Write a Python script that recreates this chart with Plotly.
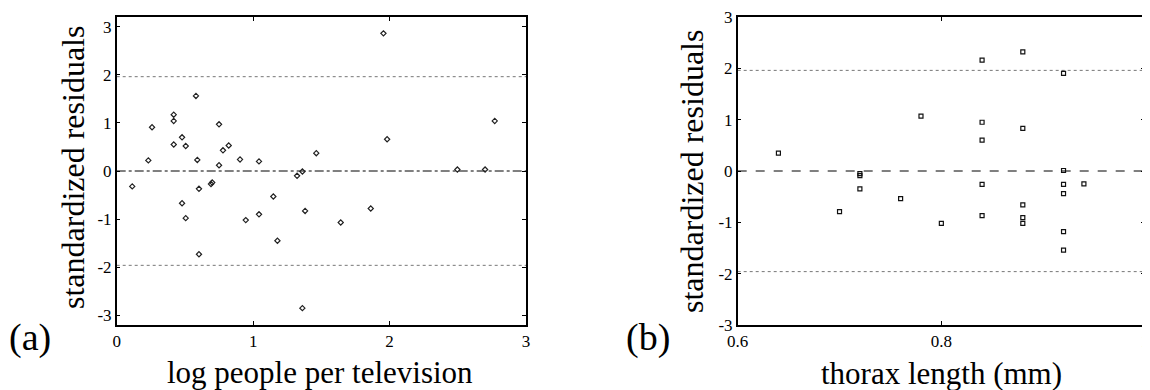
import plotly.graph_objects as go

# ---- data: panel (a) ----
tv_x = [0.114, 0.232, 0.259, 0.418, 0.418, 0.418, 0.479, 0.506, 0.581, 0.591,
        0.603, 0.691, 0.700, 0.750, 0.750, 0.779, 0.821, 0.904, 1.043, 1.148,
        1.322, 1.361, 1.463, 0.479, 0.506, 0.603, 0.946, 1.043, 1.178, 1.381,
        1.361, 1.955, 1.982, 2.771, 2.497, 2.700, 1.642, 1.862]
tv_res = [-0.32, 0.22, 0.91, 1.17, 1.04, 0.55, 0.70, 0.52, 1.56, 0.23,
          -0.37, -0.27, -0.24, 0.97, 0.12, 0.43, 0.53, 0.24, 0.20, -0.53,
          -0.10, -0.01, 0.37, -0.67, -0.98, -1.73, -1.02, -0.90, -1.45, -0.83,
          -2.85, 2.86, 0.66, 1.04, 0.03, 0.03, -1.07, -0.78]

# ---- data: panel (b) ----
thorax_x = [0.64, 0.70, 0.72, 0.72, 0.72, 0.76, 0.78, 0.80, 0.84, 0.84,
            0.84, 0.84, 0.84, 0.88, 0.88, 0.88, 0.88, 0.88, 0.92, 0.92,
            0.92, 0.92, 0.92, 0.92, 0.94]
thorax_res = [0.35, -0.79, -0.05, -0.09, -0.35, -0.54, 1.07, -1.02, 2.16, 0.95,
              0.60, -0.26, -0.87, 2.32, 0.83, -0.66, -0.91, -1.02, 1.90, 0.01,
              -0.26, -0.44, -1.18, -1.54, -0.25]

ref_levels = [-1.96, 0.0, 1.96]
y_ticks = [-3, -2, -1, 0, 1, 2, 3]
y_ticktext = ["-3", "-2", "-1", "0", "1", "2", "3"]
xa_ticks = [0, 1, 2, 3]
xa_ticktext = ["0", "1", "2", "3"]
xb_ticks = [0.6, 0.8, 1.0]
xb_ticktext = ["0.6", "0.8", "1"]

FONT = "Liberation Serif"

# page body has an 8px default margin; size the figure so it fills the window
OFF = 8
W, H = 1150 - OFF, 390 - OFF


def px(x):
    return (x - OFF) / W


def py(y):
    return 1 - (y - OFF) / H


fig = go.Figure()
fig.add_trace(go.Scatter(x=tv_x, y=tv_res, mode="markers", xaxis="x", yaxis="y",
                         marker=dict(symbol="diamond-open", size=4, color="#222",
                                     line=dict(width=1.2, color="#222")),
                         showlegend=False))
fig.add_trace(go.Scatter(x=thorax_x, y=thorax_res, mode="markers", xaxis="x2", yaxis="y2",
                         marker=dict(symbol="square-open", size=4, color="#111",
                                     line=dict(width=1.2, color="#111")),
                         showlegend=False))

shapes = []
for xr, yr, zdash in (("x", "y", "dashdot"), ("x2", "y2", "dash")):
    for lv in ref_levels:
        if lv == 0:
            ln = dict(color="black", width=1, dash=zdash)
        else:
            ln = dict(color="#777", width=1, dash="dot")
        shapes.append(dict(type="line", xref=f"{xr} domain", yref=yr,
                           x0=0, x1=1, y0=lv, y1=lv, line=ln, layer="below"))

axis_common = dict(showline=True, linecolor="black", linewidth=1.5, mirror="ticks",
                   ticks="inside", ticklen=4, tickcolor="black", tickwidth=1,
                   showgrid=False, zeroline=False, automargin=False,
                   ticklabeloverflow="allow",
                   tickfont=dict(family=FONT, size=17, color="black"))

fig.update_layout(
    width=W, height=H,
    margin=dict(l=0, r=0, t=0, b=0),
    paper_bgcolor="white", plot_bgcolor="white",
    font=dict(family=FONT, color="black"),
    xaxis=dict(domain=[px(116.7), px(526)], range=[0, 3], tickvals=xa_ticks,
               ticktext=xa_ticktext, anchor="y", **axis_common),
    yaxis=dict(domain=[py(325), py(17)], range=[-3.2, 3.2], tickvals=y_ticks,
               ticktext=y_ticktext, anchor="x", **axis_common),
    xaxis2=dict(domain=[px(737.7), px(1145)], range=[0.6, 1.0], tickvals=xb_ticks,
                ticktext=xb_ticktext, anchor="y2", **axis_common),
    yaxis2=dict(domain=[py(325), py(17)], range=[-3, 3], tickvals=y_ticks,
                ticktext=y_ticktext, anchor="x2", **axis_common),
    shapes=shapes,
)

ann = [
    dict(text="standardized residuals", x=px(73), y=py(168), textangle=-90, size=32),
    dict(text="standardized residuals", x=px(692), y=py(172), textangle=-90, size=32),
    dict(text="log people per television", x=px(320), y=py(372), size=31),
    dict(text="thorax length (mm)", x=px(941), y=py(373), size=31),
    dict(text="(a)", x=px(30), y=py(337), size=38),
    dict(text="(b)", x=px(648), y=py(337), size=38),
]
for a in ann:
    size = a.pop("size")
    fig.add_annotation(xref="paper", yref="paper", xanchor="center", yanchor="middle",
                       showarrow=False, font=dict(family=FONT, size=size, color="black"), **a)

fig.write_html("out.html")
